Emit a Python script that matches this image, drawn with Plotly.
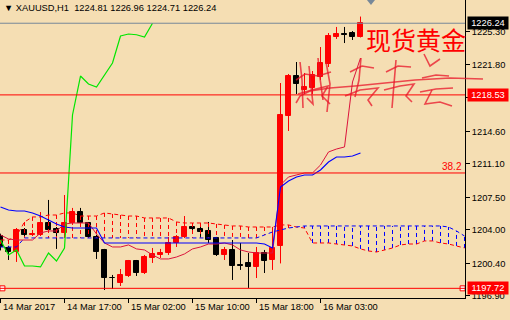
import plotly.graph_objects as go

# ---------------- data ----------------
symbol = "XAUUSD,H1"
bar_index = list(range(46))
opens = [1203.30, 1202.06, 1201.63, 1204.00, 1203.46, 1203.46, 1204.75, 1204.10, 1203.68, 1204.75,
         1205.93, 1204.75, 1203.25, 1201.85, 1198.88, 1198.30, 1199.05, 1200.66, 1199.37, 1200.99,
         1201.31, 1201.52, 1202.60, 1203.25, 1204.32, 1204.10, 1203.89, 1203.14, 1201.31, 1201.85,
         1200.20, 1200.45, 1200.02, 1201.52, 1200.77, 1202.28, 1216.26, 1220.56, 1219.06, 1219.27,
         1220.46, 1221.86, 1224.76, 1225.10, 1225.19, 1224.81]
highs = [1203.60, 1202.30, 1204.21, 1204.21, 1204.00, 1205.93, 1207.23, 1204.32, 1207.76, 1206.37,
         1206.37, 1204.86, 1203.46, 1201.96, 1199.16, 1199.80, 1200.77, 1200.77, 1201.31, 1202.06,
         1201.96, 1203.25, 1203.46, 1205.50, 1204.43, 1204.75, 1204.86, 1203.25, 1202.17, 1202.92,
         1202.60, 1201.52, 1202.17, 1201.85, 1204.00, 1219.81, 1220.78, 1222.07, 1220.89, 1221.10,
         1223.68, 1225.19, 1225.84, 1225.84, 1225.40, 1226.96]
lows = [1201.80, 1200.77, 1200.56, 1203.35, 1203.35, 1203.35, 1203.68, 1201.96, 1203.57, 1204.54,
        1204.64, 1203.14, 1200.88, 1197.54, 1197.65, 1197.97, 1198.94, 1199.05, 1199.26, 1200.45,
        1200.99, 1201.31, 1202.17, 1203.14, 1203.68, 1203.25, 1202.60, 1201.20, 1200.77, 1198.62,
        1199.70, 1197.76, 1198.83, 1199.37, 1199.70, 1200.40, 1214.65, 1218.63, 1218.63, 1218.63,
        1220.13, 1221.53, 1224.55, 1224.11, 1224.44, 1224.71]
closes = [1202.20, 1201.63, 1204.00, 1203.46, 1203.60, 1204.75, 1204.00, 1203.68, 1204.75, 1205.93,
          1204.75, 1203.25, 1201.63, 1198.83, 1198.83, 1199.16, 1200.66, 1199.37, 1201.09, 1201.42,
          1201.52, 1202.60, 1203.25, 1204.32, 1204.10, 1203.78, 1202.92, 1201.31, 1201.85, 1200.12,
          1200.12, 1200.02, 1201.52, 1200.66, 1202.06, 1216.37, 1220.56, 1219.70, 1219.38, 1220.67,
          1221.96, 1224.87, 1225.08, 1225.00, 1224.76, 1226.24]

tenkan = [1203.46, 1203.03, 1202.92, 1202.92, 1202.92, 1203.68, 1203.89, 1203.89, 1204.64, 1204.75,
          1204.75, 1204.75, 1203.57, 1202.60, 1202.17, 1202.17, 1202.39, 1201.96, 1201.85, 1201.31,
          1200.88, 1200.88, 1201.09, 1201.42, 1201.96, 1202.17, 1202.49, 1202.49, 1202.60, 1202.39,
          1201.85, 1201.63, 1201.52, 1201.52, 1201.52, 1208.84, 1209.70, 1209.92, 1210.13, 1210.13,
          1210.99, 1212.39, 1212.71, 1212.93, 1219.92, 1222.50]
kijun = [1206.47, 1206.15, 1206.04, 1206.04, 1205.83, 1205.50, 1205.07, 1204.64, 1204.32, 1204.21,
         1204.21, 1204.21, 1204.21, 1202.60, 1202.60, 1202.60, 1202.60, 1202.60, 1202.60, 1202.60,
         1202.60, 1202.60, 1202.60, 1202.60, 1202.60, 1202.60, 1202.60, 1202.60, 1202.60, 1202.60,
         1202.60, 1202.60, 1202.60, 1202.49, 1202.06, 1208.62, 1209.27, 1209.70, 1209.92, 1209.92,
         1210.45, 1211.31, 1211.85, 1211.85, 1211.96, 1212.28]
cloud_index = list(range(59))
span_a = [1202.92, 1202.92, 1203.35, 1204.86, 1205.40, 1205.40, 1205.61, 1205.61, 1205.83, 1205.83,
          1205.50, 1205.50, 1205.50, 1205.83, 1205.72, 1205.61, 1205.50, 1205.50, 1205.29, 1205.29,
          1205.29, 1205.29, 1204.86, 1204.75, 1204.75, 1204.75, 1204.75, 1204.64, 1204.54, 1204.43,
          1204.43, 1204.32, 1204.32, 1204.32, 1204.32, 1204.54, 1204.54, 1204.32, 1204.21, 1202.60,
          1202.60, 1202.60, 1202.49, 1202.39, 1202.28, 1201.96, 1201.74, 1201.63, 1201.85, 1202.06,
          1202.39, 1202.49, 1202.49, 1202.82, 1202.82, 1202.60, 1202.49, 1202.28, 1202.06]
span_b = [1202.17, 1202.17, 1202.17, 1203.14, 1203.14, 1203.14, 1203.14, 1203.14, 1203.14, 1203.14,
          1203.14, 1203.14, 1203.14, 1203.14, 1203.14, 1203.14, 1203.14, 1203.14, 1203.14, 1203.14,
          1203.14, 1203.14, 1203.14, 1203.14, 1203.14, 1203.14, 1203.14, 1203.14, 1203.14, 1203.14,
          1203.14, 1203.14, 1203.14, 1203.46, 1203.78, 1204.00, 1204.21, 1204.32, 1204.43, 1204.43,
          1204.43, 1204.43, 1204.43, 1204.43, 1204.43, 1204.43, 1204.43, 1204.43, 1204.43, 1204.43,
          1204.43, 1204.43, 1204.43, 1204.43, 1204.43, 1204.43, 1204.32, 1203.89, 1203.35]
chikou_shift = 26

level_bid = 1226.24
level_resist = 1218.53
level_fib = 1210.13
fib_label = "38.2"
level_support = 1197.72

y_ticks = [1196.90, 1200.40, 1204.00, 1207.50, 1211.10, 1214.60, 1218.30, 1221.80, 1225.30]
x_tick_pos = [0, 8, 16, 24, 32, 40]
x_tick_labels = ["14 Mar 2017", "14 Mar 17:00", "15 Mar 02:00", "15 Mar 10:00",
                 "15 Mar 18:00", "16 Mar 03:00"]
title_cn = "现货黄金"

# ---------------- style ----------------
BG = "#F5DEB3"
UP = "#FF0000"
DN = "#000000"
FONT = "Liberation Sans"
X_RANGE = [-0.0625, 58.0625]
Y_RANGE = [1196.68, 1228.74]
PW, PH = 465.0, 298.0   # plot area in pixels

fig = go.Figure()

# wicks
for col, cond in ((UP, lambda o, c: c >= o), (DN, lambda o, c: c < o)):
    xs, ys = [], []
    for i, o, h, l, c in zip(bar_index, opens, highs, lows, closes):
        if cond(o, c):
            xs += [i, i, None]
            ys += [l, h, None]
    fig.add_trace(go.Scatter(x=xs, y=ys, mode="lines", line=dict(color=col, width=1),
                             hoverinfo="skip"))

# bodies
base = [min(o, c) for o, c in zip(opens, closes)]
height = [max(abs(c - o), 0.05) for o, c in zip(opens, closes)]
colors = [UP if c >= o else DN for o, c in zip(opens, closes)]
fig.add_trace(go.Bar(x=bar_index, y=height, base=base, width=0.62,
                     marker=dict(color=colors, line=dict(color=colors, width=1))))

# cloud hatching
for col, cond in ((UP, lambda a, b: a > b), ("#0000FF", lambda a, b: a <= b)):
    xs, ys = [], []
    for i, a, b in zip(cloud_index, span_a, span_b):
        if cond(a, b):
            xs += [i, i, None]
            ys += [a, b, None]
    fig.add_trace(go.Scatter(x=xs, y=ys, mode="lines",
                             line=dict(color=col, width=1, dash="4px,3px"), hoverinfo="skip"))

fig.add_trace(go.Scatter(x=cloud_index, y=span_a, mode="lines",
                         line=dict(color=UP, width=1, dash="4px,3px")))
fig.add_trace(go.Scatter(x=cloud_index, y=span_b, mode="lines",
                         line=dict(color="#0000FF", width=1, dash="4px,3px")))
fig.add_trace(go.Scatter(x=bar_index, y=tenkan, mode="lines",
                         line=dict(color="#DC143C", width=1)))
fig.add_trace(go.Scatter(x=bar_index, y=kijun, mode="lines",
                         line=dict(color="#0000FF", width=1.1)))
chx = [i - chikou_shift for i in bar_index if i >= chikou_shift]
chy = [closes[i] for i in bar_index if i >= chikou_shift]
fig.add_trace(go.Scatter(x=chx, y=chy, mode="lines", line=dict(color="#00E600", width=1.2)))

# horizontal lines
shapes = []
for lvl, col in ((level_bid, "#778899"), (level_resist, "#FF0000"),
                 (level_fib, "#FF0000"), (level_support, "#FF0000")):
    shapes.append(dict(type="line", xref="paper", x0=0, x1=1, yref="y", y0=lvl, y1=lvl,
                       line=dict(color=col, width=1), layer="above"))
# chart-shift marker at top
shapes.append(dict(type="path", xref="paper", yref="paper",
                   path="M 0.7892,1 L 0.8064,1 L 0.7978,0.983 Z",
                   fillcolor="#778899", line=dict(width=0), layer="above"))


# decorative handwritten signature (graphic, in pixel space of the plot area)
def pp(pts):
    s = ""
    for k, (px, py) in enumerate(pts):
        s += ("M " if k == 0 else " L ") + "%.4f,%.4f" % (px / PW, 1 - py / PH)
    return s


strokes = [
    [(296, 103), (300, 96), (310, 91), (330, 88), (355, 86), (385, 83), (415, 80), (450, 78), (483, 79)],
    [(300, 62), (302, 80), (303, 108)],
    [(309, 66), (311, 86), (313, 104), (307, 98)],
    [(318, 58), (320, 78), (323, 100)],
    [(296, 80), (305, 74), (318, 76), (331, 72)],
    [(298, 94), (312, 90), (328, 86), (322, 96), (330, 104)],
    [(326, 62), (330, 84), (327, 112)],
    [(350, 72), (362, 66), (374, 68)],
    [(361, 58), (359, 80), (355, 97)],
    [(345, 96), (360, 90), (378, 88), (368, 100), (372, 106)],
    [(386, 72), (398, 66), (411, 67)],
    [(396, 60), (394, 84), (392, 108)],
    [(384, 90), (400, 86), (414, 84), (406, 96), (412, 102)],
    [(424, 54), (430, 66), (440, 59)],
    [(422, 78), (436, 75), (449, 76)],
    [(420, 92), (436, 89), (453, 88)],
    [(432, 90), (425, 104), (440, 102), (452, 106)],
]
for st in strokes:
    shapes.append(dict(type="path", xref="paper", yref="paper", path=pp(st),
                       line=dict(color="rgba(232,20,40,0.75)", width=1.6), layer="above"))

fig.add_trace(go.Scatter(x=[X_RANGE[0] + 0.3, X_RANGE[1] - 0.3], y=[level_support] * 2,
                         mode="markers", marker=dict(symbol="square", size=5, color="white",
                                                     line=dict(color="#FF0000", width=1))))

ann = []
ann.append(dict(xref="paper", yref="paper", x=0.004, y=1, xanchor="left", yanchor="top",
                yshift=-1, showarrow=False, font=dict(family=FONT, size=9.3, color="black"),
                text="▼ %s  %.2f %.2f %.2f %.2f" % (symbol, opens[-1], highs[-1], lows[-1], closes[-1])))
for pos, lab in zip(x_tick_pos, x_tick_labels):
    ann.append(dict(xref="x", yref="paper", x=pos, y=0, xanchor="left", yanchor="top",
                    xshift=0, yshift=-2, showarrow=False, text=lab,
                    font=dict(family=FONT, size=9.3, color="black")))
for lvl, bg in ((level_bid, "#000000"), (level_resist, "#FF0000"), (level_support, "#FF0000")):
    ann.append(dict(xref="paper", yref="y", x=1, y=lvl, xanchor="left", yanchor="middle",
                    xshift=2, showarrow=False, text="%.2f" % lvl, bgcolor=bg,
                    width=38, height=10, borderpad=1,
                    font=dict(family=FONT, size=9.3, color="white")))
ann.append(dict(xref="paper", yref="y", x=1, y=level_fib, xanchor="right", yanchor="bottom",
                xshift=-1, yshift=-1, showarrow=False, text=fib_label,
                font=dict(family=FONT, size=10, color="#FF0000")))
ann.append(dict(xref="paper", yref="paper", x=364 / PW, y=1 - 19 / PH, xanchor="left",
                yanchor="top", showarrow=False, text=title_cn,
                font=dict(family="Noto Sans CJK SC", size=25, color="#FF0000")))

fig.update_layout(
    width=510, height=320, margin=dict(l=0, r=45, t=0, b=22),
    paper_bgcolor=BG, plot_bgcolor=BG, showlegend=False, bargap=0,
    shapes=shapes, annotations=ann,
    xaxis=dict(range=X_RANGE, showgrid=False, zeroline=False, showline=True,
               linecolor="black", linewidth=1, ticks="outside", ticklen=4, tickcolor="black",
               tickvals=x_tick_pos, showticklabels=False, fixedrange=True),
    yaxis=dict(range=Y_RANGE, side="right", showgrid=False, zeroline=False, showline=True,
               linecolor="black", linewidth=1, ticks="outside", ticklen=4, tickcolor="black",
               tickvals=y_ticks, ticktext=["%.2f" % v for v in y_ticks],
               tickfont=dict(family=FONT, size=9.3, color="black"), fixedrange=True),
)

fig.write_html("out.html")
